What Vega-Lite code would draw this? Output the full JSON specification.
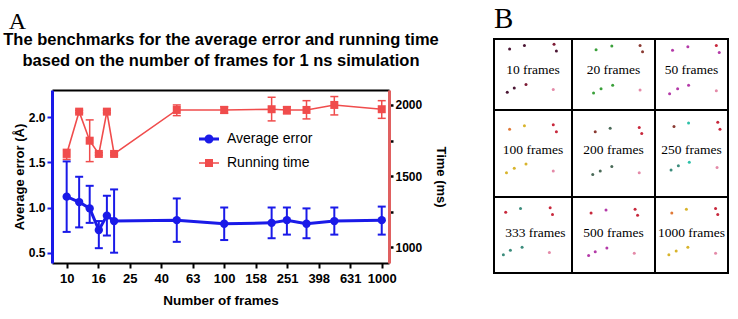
{
  "$schema": "https://vega.github.io/schema/vega-lite/v6.json",
  "background": "white",
  "padding": {"left": 2, "top": 5, "right": 0, "bottom": 0},
  "spacing": 46,
  "columns": 2,
  "align": "none",
  "config": {"view": {"stroke": null}, "font": "Liberation Sans", "axis": {"grid": false}},
  "datasets": {
    "series": [
      {"frames": 10, "series": "Average error", "value": 1.12, "lo": 0.73, "hi": 1.51},
      {"frames": 12, "series": "Average error", "value": 1.06, "lo": 0.78, "hi": 1.34},
      {"frames": 14, "series": "Average error", "value": 0.99, "lo": 0.83, "hi": 1.24},
      {"frames": 16, "series": "Average error", "value": 0.75, "lo": 0.55, "hi": 0.85},
      {"frames": 18, "series": "Average error", "value": 0.91, "lo": 0.69, "hi": 1.13},
      {"frames": 20, "series": "Average error", "value": 0.85, "lo": 0.50, "hi": 1.20},
      {"frames": 50, "series": "Average error", "value": 0.86, "lo": 0.62, "hi": 1.10},
      {"frames": 100, "series": "Average error", "value": 0.82, "lo": 0.64, "hi": 1.00},
      {"frames": 200, "series": "Average error", "value": 0.83, "lo": 0.66, "hi": 1.00},
      {"frames": 250, "series": "Average error", "value": 0.86, "lo": 0.70, "hi": 1.00},
      {"frames": 333, "series": "Average error", "value": 0.82, "lo": 0.66, "hi": 0.99},
      {"frames": 500, "series": "Average error", "value": 0.85, "lo": 0.70, "hi": 1.00},
      {"frames": 1000, "series": "Average error", "value": 0.86, "lo": 0.70, "hi": 1.01},
      {"frames": 10, "series": "Running time", "value": 1656, "lo": 1618, "hi": 1688},
      {"frames": 12, "series": "Running time", "value": 1953, "lo": 1944, "hi": 1962},
      {"frames": 14, "series": "Running time", "value": 1749, "lo": 1602, "hi": 1895},
      {"frames": 16, "series": "Running time", "value": 1656, "lo": 1647, "hi": 1665},
      {"frames": 18, "series": "Running time", "value": 1953, "lo": 1944, "hi": 1962},
      {"frames": 20, "series": "Running time", "value": 1656, "lo": 1647, "hi": 1665},
      {"frames": 50, "series": "Running time", "value": 1965, "lo": 1925, "hi": 2000},
      {"frames": 100, "series": "Running time", "value": 1965, "lo": 1941, "hi": 1988},
      {"frames": 200, "series": "Running time", "value": 1970, "lo": 1888, "hi": 2054},
      {"frames": 250, "series": "Running time", "value": 1965, "lo": 1937, "hi": 1988},
      {"frames": 333, "series": "Running time", "value": 1965, "lo": 1902, "hi": 2030},
      {"frames": 500, "series": "Running time", "value": 2000, "lo": 1930, "hi": 2059},
      {"frames": 1000, "series": "Running time", "value": 1970, "lo": 1906, "hi": 2030}
    ],
    "cells": [
      {"label": "10 frames", "x0": 0, "x1": 1, "y0": 0, "y1": 1, "xm": 0.5, "ym": 0.44},
      {"label": "20 frames", "x0": 1, "x1": 2, "y0": 0, "y1": 1, "xm": 1.5, "ym": 0.44},
      {"label": "50 frames", "x0": 2, "x1": 3, "y0": 0, "y1": 1, "xm": 2.5, "ym": 0.44},
      {"label": "100 frames", "x0": 0, "x1": 1, "y0": 1, "y1": 2, "xm": 0.5, "ym": 1.46},
      {"label": "200 frames", "x0": 1, "x1": 2, "y0": 1, "y1": 2, "xm": 1.5, "ym": 1.46},
      {"label": "250 frames", "x0": 2, "x1": 3, "y0": 1, "y1": 2, "xm": 2.5, "ym": 1.46},
      {"label": "333 frames", "x0": 0, "x1": 1, "y0": 2, "y1": 3, "xm": 0.53, "ym": 2.47},
      {"label": "500 frames", "x0": 1, "x1": 2, "y0": 2, "y1": 3, "xm": 1.5, "ym": 2.47},
      {"label": "1000 frames", "x0": 2, "x1": 3, "y0": 2, "y1": 3, "xm": 2.5, "ym": 2.47}
    ],
    "dots": [
      {"x": 0.20, "y": 0.14, "kind": "maroon"}, {"x": 0.39, "y": 0.09, "kind": "maroon"}, {"x": 0.77, "y": 0.075, "kind": "darkred"}, {"x": 0.80, "y": 0.17, "kind": "maroon"},
      {"x": 0.17, "y": 0.75, "kind": "maroon"}, {"x": 0.26, "y": 0.69, "kind": "maroon"}, {"x": 0.41, "y": 0.64, "kind": "darkred"}, {"x": 0.76, "y": 0.71, "kind": "pink"},
      {"x": 1.29, "y": 0.15, "kind": "green"}, {"x": 1.48, "y": 0.10, "kind": "green"}, {"x": 1.82, "y": 0.09, "kind": "brown"}, {"x": 1.85, "y": 0.18, "kind": "brown"},
      {"x": 1.26, "y": 0.76, "kind": "green"}, {"x": 1.35, "y": 0.70, "kind": "green"}, {"x": 1.49, "y": 0.65, "kind": "green"}, {"x": 1.82, "y": 0.72, "kind": "pink"},
      {"x": 2.24, "y": 0.16, "kind": "magenta"}, {"x": 2.45, "y": 0.11, "kind": "magenta"}, {"x": 2.84, "y": 0.09, "kind": "red"}, {"x": 2.88, "y": 0.19, "kind": "magenta"},
      {"x": 2.20, "y": 0.77, "kind": "magenta"}, {"x": 2.31, "y": 0.70, "kind": "magenta"}, {"x": 2.46, "y": 0.65, "kind": "magenta"}, {"x": 2.84, "y": 0.73, "kind": "pink"},
      {"x": 0.20, "y": 1.22, "kind": "orange"}, {"x": 0.39, "y": 1.18, "kind": "yellow"}, {"x": 0.76, "y": 1.17, "kind": "red"}, {"x": 0.80, "y": 1.25, "kind": "red"},
      {"x": 0.16, "y": 1.72, "kind": "yellow"}, {"x": 0.26, "y": 1.67, "kind": "yellow"}, {"x": 0.41, "y": 1.62, "kind": "yellow"}, {"x": 0.76, "y": 1.70, "kind": "pink"},
      {"x": 1.28, "y": 1.25, "kind": "brown"}, {"x": 1.46, "y": 1.21, "kind": "olive"}, {"x": 1.81, "y": 1.20, "kind": "red"}, {"x": 1.84, "y": 1.27, "kind": "red"},
      {"x": 1.25, "y": 1.74, "kind": "olive"}, {"x": 1.34, "y": 1.70, "kind": "olive"}, {"x": 1.48, "y": 1.65, "kind": "olive"}, {"x": 1.81, "y": 1.72, "kind": "pink"},
      {"x": 2.26, "y": 1.19, "kind": "brown"}, {"x": 2.46, "y": 1.15, "kind": "cyan"}, {"x": 2.86, "y": 1.14, "kind": "red"}, {"x": 2.89, "y": 1.22, "kind": "red"},
      {"x": 2.22, "y": 1.69, "kind": "teal"}, {"x": 2.32, "y": 1.64, "kind": "teal"}, {"x": 2.47, "y": 1.60, "kind": "cyan"}, {"x": 2.85, "y": 1.66, "kind": "pink"},
      {"x": 0.15, "y": 2.20, "kind": "red"}, {"x": 0.34, "y": 2.15, "kind": "teal"}, {"x": 0.72, "y": 2.14, "kind": "red"}, {"x": 0.75, "y": 2.23, "kind": "red"},
      {"x": 0.12, "y": 2.76, "kind": "teal"}, {"x": 0.21, "y": 2.70, "kind": "teal"}, {"x": 0.36, "y": 2.66, "kind": "teal"}, {"x": 0.71, "y": 2.73, "kind": "pink"},
      {"x": 1.23, "y": 2.21, "kind": "red"}, {"x": 1.41, "y": 2.17, "kind": "magenta"}, {"x": 1.76, "y": 2.16, "kind": "red"}, {"x": 1.79, "y": 2.24, "kind": "red"},
      {"x": 1.20, "y": 2.77, "kind": "magenta"}, {"x": 1.28, "y": 2.72, "kind": "magenta"}, {"x": 1.42, "y": 2.67, "kind": "magenta"}, {"x": 1.75, "y": 2.74, "kind": "pink"},
      {"x": 2.23, "y": 2.21, "kind": "orange"}, {"x": 2.43, "y": 2.16, "kind": "yellow"}, {"x": 2.83, "y": 2.15, "kind": "red"}, {"x": 2.86, "y": 2.23, "kind": "red"},
      {"x": 2.19, "y": 2.76, "kind": "yellow"}, {"x": 2.29, "y": 2.71, "kind": "yellow"}, {"x": 2.45, "y": 2.66, "kind": "yellow"}, {"x": 2.83, "y": 2.74, "kind": "pink"}
    ]
  },
  "resolve": {"scale": {"x": "independent", "y": "independent", "color": "independent"}},
  "concat": [
    {
      "width": 337,
      "height": 173,
      "title": {"text": "A", "anchor": "start", "frame": "bounds", "font": "Liberation Serif", "fontSize": 24, "fontWeight": "normal", "color": "black", "baseline": "alphabetic", "offset": -22, "dx": 6},
      "data": {"name": "series"},
      "resolve": {"scale": {"y": "independent"}, "axis": {"x": "independent"}},
      "layer": [
        {
          "transform": [{"filter": "datum.series === 'Average error'"}],
          "encoding": {
            "x": {"field": "frames", "type": "quantitative",
              "scale": {"type": "log", "domain": [8.07, 1112], "nice": false},
              "axis": {"orient": "bottom", "values": [10, 15.849, 25.119, 39.811, 63.096, 100, 158.49, 251.19, 398.11, 630.96, 1000], "format": ".0f",
                "title": "Number of frames", "titleFont": "Liberation Sans", "titleFontSize": 13.5, "titleFontWeight": "bold", "titleColor": "black", "titlePadding": 8,
                "labelFont": "Liberation Sans", "labelFontSize": 13, "labelFontWeight": "bold", "labelColor": "black", "labelPadding": 4, "labelFlush": false, "labelOverlap": false,
                "domainColor": "black", "domainWidth": 2, "tickColor": "black", "tickWidth": 2, "tickSize": 5}}
          },
          "layer": [
            {"mark": {"type": "rule", "color": "#1a1ae8", "strokeWidth": 2},
             "encoding": {
               "y": {"field": "lo", "type": "quantitative", "scale": {"domain": [0.386, 2.30], "nice": false, "zero": false},
                 "axis": {"orient": "left", "values": [0.5, 1, 1.5, 2], "format": ".1f", "title": "Average error (Å)",
                   "titleFont": "Liberation Sans", "titleFontSize": 13, "titleFontWeight": "bold", "titleColor": "black", "titlePadding": 2,
                   "labelFont": "Liberation Sans", "labelFontSize": 12, "labelFontWeight": "bold", "labelColor": "black", "labelPadding": 2,
                   "domainColor": "#1a1ae8", "domainWidth": 3, "tickColor": "#1a1ae8", "tickWidth": 2, "tickSize": 5}},
               "y2": {"field": "hi"}}},
            {"mark": {"type": "point", "shape": "stroke", "size": 64, "color": "#1a1ae8", "strokeWidth": 2, "opacity": 1},
             "encoding": {"y": {"field": "lo", "type": "quantitative", "scale": {"domain": [0.386, 2.30], "nice": false, "zero": false}}}},
            {"mark": {"type": "point", "shape": "stroke", "size": 64, "color": "#1a1ae8", "strokeWidth": 2, "opacity": 1},
             "encoding": {"y": {"field": "hi", "type": "quantitative", "scale": {"domain": [0.386, 2.30], "nice": false, "zero": false}}}},
            {"mark": {"type": "line", "strokeWidth": 3},
             "encoding": {"y": {"field": "value", "type": "quantitative", "scale": {"domain": [0.386, 2.30], "nice": false, "zero": false}},
               "color": {"field": "series", "type": "nominal", "scale": {"domain": ["Average error", "Running time"], "range": ["#1a1ae8", "#f04c4c"]}}}},
            {"mark": {"type": "point", "shape": "circle", "filled": true, "size": 70, "opacity": 1},
             "encoding": {"y": {"field": "value", "type": "quantitative", "scale": {"domain": [0.386, 2.30], "nice": false, "zero": false}},
               "color": {"field": "series", "type": "nominal", "scale": {"domain": ["Average error", "Running time"], "range": ["#1a1ae8", "#f04c4c"]},
                 "legend": {"orient": "none", "legendX": 150, "legendY": 42, "title": null, "labelFont": "Liberation Sans", "labelFontSize": 14, "labelColor": "black",
                   "symbolSize": 400, "labelOffset": 11, "rowPadding": 8,
                   "encoding": {"symbols": {
                     "shape": {"value": {"expr": "datum.value === 'Average error' ? 'M-1,0H1M0.3,0A0.3,0.3,0,1,1,-0.3,0A0.3,0.3,0,1,1,0.3,0Z' : 'M-1,0H1M-0.32,-0.32H0.32V0.32H-0.32Z'"}},
                     "fill": {"value": {"expr": "datum.value === 'Average error' ? '#1a1ae8' : '#f04c4c'"}},
                     "stroke": {"value": {"expr": "datum.value === 'Average error' ? '#1a1ae8' : '#f04c4c'"}},
                     "strokeWidth": {"value": {"expr": "datum.value === 'Average error' ? 3 : 1.6"}},
                     "opacity": {"value": 1}
                   }}}}}}
          ]
        },
        {
          "transform": [{"filter": "datum.series === 'Running time'"}],
          "encoding": {
            "x": {"field": "frames", "type": "quantitative",
              "scale": {"type": "log", "domain": [8.07, 1112], "nice": false},
              "axis": {"orient": "top", "labels": false, "ticks": false, "domainColor": "black", "domainWidth": 2,
                "title": ["The benchmarks for the average error and running time", "based on the number of frames for 1 ns simulation"],
                "titleFont": "Liberation Sans", "titleFontSize": 16.5, "titleFontWeight": "bold", "titleColor": "black", "titleLineHeight": 21, "titlePadding": 22}}
          },
          "layer": [
            {"mark": {"type": "rule", "color": "#f04c4c", "strokeWidth": 1.5},
             "encoding": {
               "y": {"field": "lo", "type": "quantitative", "scale": {"domain": [890, 2105], "nice": false, "zero": false},
                 "axis": {"orient": "right", "values": [1000, 1250, 1500, 1750, 2000], "labelExpr": "datum.value % 500 === 0 ? datum.label : ''", "format": "d",
                   "title": "Time (ms)", "titleFont": "Liberation Sans", "titleFontSize": 13, "titleFontWeight": "bold", "titleColor": "black", "titlePadding": 12,
                   "labelFont": "Liberation Sans", "labelFontSize": 12, "labelFontWeight": "bold", "labelColor": "black", "labelPadding": 2,
                   "domainColor": "#e06060", "domainWidth": 3, "tickColor": "black", "tickWidth": 2.5, "tickSize": 4}},
               "y2": {"field": "hi"}}},
            {"mark": {"type": "point", "shape": "stroke", "size": 64, "color": "#f04c4c", "strokeWidth": 1.5, "opacity": 1},
             "encoding": {"y": {"field": "lo", "type": "quantitative", "scale": {"domain": [890, 2105], "nice": false, "zero": false}}}},
            {"mark": {"type": "point", "shape": "stroke", "size": 64, "color": "#f04c4c", "strokeWidth": 1.5, "opacity": 1},
             "encoding": {"y": {"field": "hi", "type": "quantitative", "scale": {"domain": [890, 2105], "nice": false, "zero": false}}}},
            {"mark": {"type": "line", "strokeWidth": 1.6},
             "encoding": {"y": {"field": "value", "type": "quantitative", "scale": {"domain": [890, 2105], "nice": false, "zero": false}},
               "color": {"field": "series", "type": "nominal", "scale": {"domain": ["Average error", "Running time"], "range": ["#1a1ae8", "#f04c4c"]}}}},
            {"mark": {"type": "point", "shape": "square", "filled": true, "size": 64, "opacity": 1},
             "encoding": {"y": {"field": "value", "type": "quantitative", "scale": {"domain": [890, 2105], "nice": false, "zero": false}},
               "color": {"field": "series", "type": "nominal", "scale": {"domain": ["Average error", "Running time"], "range": ["#1a1ae8", "#f04c4c"]}}}}
          ]
        }
      ]
    },
    {
      "width": 234,
      "height": 183,
      "title": {"text": "B", "anchor": "start", "frame": "group", "font": "Liberation Serif", "fontSize": 29, "fontWeight": "normal", "color": "black", "baseline": "alphabetic", "offset": -19},
      "layer": [
        {"data": {"name": "cells"},
         "mark": {"type": "rect", "fill": "white", "stroke": "black", "strokeWidth": 2},
         "encoding": {
           "x": {"field": "x0", "type": "quantitative", "scale": {"domain": [0, 1, 2, 3], "range": [0, 78, 161, 234], "nice": false, "zero": false}, "axis": null},
           "x2": {"field": "x1"},
           "y": {"field": "y0", "type": "quantitative", "scale": {"domain": [0, 1, 2, 3], "range": [-51, 20, 107, 183], "nice": false, "zero": false}, "axis": null},
           "y2": {"field": "y1"}}},
        {"data": {"name": "cells"},
         "mark": {"type": "text", "font": "Liberation Serif", "fontSize": 13.5, "color": "black", "baseline": "middle", "align": "center"},
         "encoding": {
           "x": {"field": "xm", "type": "quantitative", "scale": {"domain": [0, 1, 2, 3], "range": [0, 78, 161, 234], "nice": false, "zero": false}, "axis": null},
           "y": {"field": "ym", "type": "quantitative", "scale": {"domain": [0, 1, 2, 3], "range": [-51, 20, 107, 183], "nice": false, "zero": false}, "axis": null},
           "text": {"field": "label", "type": "nominal"}}},
        {"data": {"name": "dots"},
         "mark": {"type": "point", "filled": true, "size": 9, "opacity": 1},
         "encoding": {
           "x": {"field": "x", "type": "quantitative", "scale": {"domain": [0, 1, 2, 3], "range": [0, 78, 161, 234], "nice": false, "zero": false}, "axis": null},
           "y": {"field": "y", "type": "quantitative", "scale": {"domain": [0, 1, 2, 3], "range": [-51, 20, 107, 183], "nice": false, "zero": false}, "axis": null},
           "color": {"field": "kind", "type": "nominal", "legend": null,
             "scale": {"domain": ["maroon", "darkred", "pink", "green", "brown", "magenta", "red", "orange", "yellow", "olive", "cyan", "teal"],
               "range": ["#4b1634", "#7c1a34", "#e48aa8", "#3aa03a", "#8a3a32", "#b43aa8", "#c8283c", "#e07a38", "#d8b42c", "#4a6a58", "#2cc0a8", "#3c8c7c"]}}}}
      ]
    }
  ]
}
